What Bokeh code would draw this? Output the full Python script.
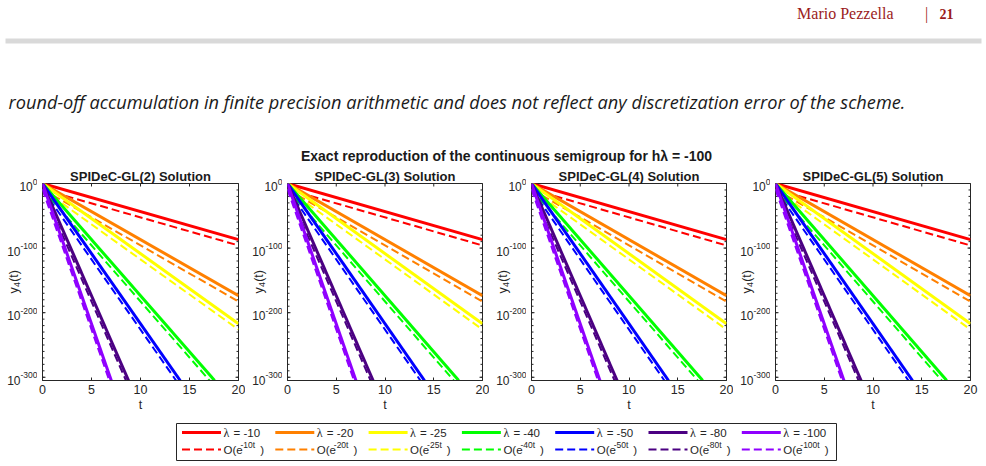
import math
from bokeh.plotting import figure
from bokeh.layouts import column, row
from bokeh.models import Range1d, FixedTicker, Label, ColumnDataSource
from bokeh.embed import file_html
from bokeh.resources import INLINE
from bokeh.core.properties import value

# ---------------- data ----------------
panel_titles = ["SPIDeC-GL(2) Solution", "SPIDeC-GL(3) Solution",
                "SPIDeC-GL(4) Solution", "SPIDeC-GL(5) Solution"]
lambdas = [-10, -20, -25, -40, -50, -80, -100]
colors = ["#FF0000", "#FF8000", "#FFFF00", "#00FF00", "#0000FF", "#4B0082", "#8F00FF"]

# exact solution y4(t) = exp(lambda t): straight lines in log10 units (start / end)
solid_t_start = [0, 0, 0, 0, 0, 0, 0]
solid_log10_start = [0, 0, 0, 0, 0, 0, 0]
solid_t_end = [20, 20, 20, 17.56, 14.05, 8.78, 7.02]
solid_log10_end = [-86.9, -173.7, -217.1, -305, -305, -305, -305]

# O(e^{lambda t}) reference lines (dashed)
dashed_t_start = [0, 0, 0, 0, 0, 0, 0]
dashed_log10_start = [-9, -9, -9, -9, -9, -9, -9]
dashed_t_end = [20, 20, 20, 17.05, 13.63, 8.52, 6.82]
dashed_log10_end = [-95.9, -182.7, -226.1, -305, -305, -305, -305]

x_ticks = [0, 5, 10, 15, 20]
y_ticks = [0, -100, -200, -300]          # exponents of the decades 10^0 ... 10^-300
y_minor = list(range(-300, 1, 10))
T_MAX = 20
Y_MIN = -305

AX = "#262626"
SANS = "Liberation Sans"

def sup_width(s, px):
    w = 0.0
    for ch in s:
        w += {"-": 0.333, "t": 0.278}.get(ch, 0.556) * px
    return w

# ---------------- header ----------------
hdr = figure(width=986, height=163, x_range=Range1d(0, 986), y_range=Range1d(163, 0),
             output_backend="svg", toolbar_location=None, min_border=0)
hdr.axis.visible = False
hdr.grid.visible = False
hdr.outline_line_color = None
hdr.quad(left=[5], right=[981], top=[38], bottom=[43], color="#D9D9D9", line_color=None)
hdr.add_layout(Label(x=893, y=13, text="Mario Pezzella", text_align="right", text_baseline="middle",
                     text_font="Liberation Serif", text_font_size="16px", text_color="#9B1B1B"))
hdr.add_layout(Label(x=926, y=13, text="|", text_align="center", text_baseline="middle",
                     text_font="Liberation Serif", text_font_size="16px", text_color="#9B1B1B"))
hdr.add_layout(Label(x=946, y=13, text="21", text_align="center", text_baseline="middle",
                     text_font="Liberation Serif", text_font_size="14px", text_font_style="bold",
                     text_color="#9B1B1B"))
hdr.add_layout(Label(x=8, y=101, text="round-off accumulation in finite precision arithmetic and does not reflect any discretization error of the scheme.",
                     text_align="left", text_baseline="middle", text_font="Open Sans",
                     text_font_size="18.2px", text_font_style="italic", text_color="#1A1A1A"))
hdr.add_layout(Label(x=506, y=155, text="Exact reproduction of the continuous semigroup for h\u03bb = -100",
                     text_align="center", text_baseline="middle", text_font=SANS,
                     text_font_size="14px", text_font_style="bold", text_color="#1A1A1A"))

# ---------------- panels ----------------
FIG_H = 252
TOP_B, BOT_B = 20, 35
FRAME_H = FIG_H - TOP_B - BOT_B
K = (0 - Y_MIN) / FRAME_H          # decades per pixel
STRIP_W = 37
frame_w = [196, 195, 195, 195]
right_b = [7, 7, 7, 16]
row_items = []
for i in range(4):
    # --- strip holding the y tick labels and y label (left of the box) ---
    s = figure(width=STRIP_W, height=FIG_H, x_range=Range1d(0, STRIP_W),
               y_range=Range1d(Y_MIN - BOT_B * K, TOP_B * K),
               output_backend="svg", toolbar_location=None, min_border=0,
               x_axis_location=None, y_axis_location=None)
    if "frame_align" in s.properties():
        s.frame_align = False
    else:
        s.y_range = Range1d(Y_MIN, 0)
    s.grid.visible = False
    s.outline_line_color = None
    exps = [str(t) for t in y_ticks]
    ews = [sup_width(e, 8.5) for e in exps]
    s.text(x=[STRIP_W] * len(exps), y=[t + 2 * K for t in y_ticks], text=exps,
           text_align="right", text_baseline="middle", text_font=value(SANS),
           text_font_size="8.5px", text_color=AX)
    s.text(x=[STRIP_W - w for w in ews], y=[t - 3 * K for t in y_ticks], text=["10"] * len(exps),
           text_align="right", text_baseline="middle", text_font=value(SANS),
           text_font_size="12px", text_color=AX)
    yc = Y_MIN / 2
    s.text(x=[13], y=[yc - 11.5 * K], text=["y"], angle=math.pi / 2, text_align="left",
           text_baseline="middle", text_font=value(SANS), text_font_size="12.5px", text_color=AX)
    s.text(x=[16], y=[yc - 5.0 * K], text=["4"], angle=math.pi / 2, text_align="left",
           text_baseline="middle", text_font=value(SANS), text_font_size="9px", text_color=AX)
    s.text(x=[13], y=[yc + 0.2 * K], text=["(t)"], angle=math.pi / 2, text_align="left",
           text_baseline="middle", text_font=value(SANS), text_font_size="12.5px", text_color=AX)
    row_items.append(s)

    # --- the plot box itself ---
    left = 42 - STRIP_W
    w = left + frame_w[i] + right_b[i]
    p = figure(width=w, height=FIG_H, x_range=Range1d(0, T_MAX), y_range=Range1d(Y_MIN, 0),
               output_backend="svg", toolbar_location=None, y_axis_location=None,
               min_border_left=left, min_border_right=right_b[i], min_border_top=TOP_B,
               min_border_bottom=BOT_B)
    p.grid.visible = False
    p.outline_line_color = AX
    p.background_fill_color = "white"
    p.border_fill_color = "white"
    p.title.text = panel_titles[i]
    p.title.align = "center"
    p.title.text_font = SANS
    p.title.text_font_size = "13px"
    p.title.text_font_style = "bold"
    p.title.text_color = "#1A1A1A"
    p.title.standoff = 0
    p.title.offset = 0

    xa = p.xaxis[0]
    xa.ticker = FixedTicker(ticks=x_ticks, minor_ticks=[])
    xa.axis_line_color = AX
    xa.major_tick_line_color = AX
    xa.major_tick_in = 3
    xa.major_tick_out = 0
    xa.major_label_text_font = SANS
    xa.major_label_text_font_size = "12.5px"
    xa.major_label_text_color = AX
    xa.major_label_standoff = 4
    xa.axis_label = "t"
    xa.axis_label_text_font = SANS
    xa.axis_label_text_font_size = "12.5px"
    xa.axis_label_text_font_style = "normal"
    xa.axis_label_text_color = AX
    xa.axis_label_standoff = 1

    # inward ticks of the log y axis (left and right edges) and mirrored x ticks on top
    for xe in (0, T_MAX):
        p.scatter(x=[xe] * len(y_ticks), y=y_ticks, marker="dash", size=6, line_color=AX, line_width=1)
        p.scatter(x=[xe] * len(y_minor), y=y_minor, marker="dash", size=4, line_color=AX, line_width=1)
    p.scatter(x=x_ticks, y=[0] * len(x_ticks), marker="dash", angle=math.pi / 2, size=6,
              line_color=AX, line_width=1)

    for k in range(len(lambdas)):
        p.line([solid_t_start[k], solid_t_end[k]], [solid_log10_start[k], solid_log10_end[k]],
               line_color=colors[k], line_width=3)
        p.line([dashed_t_start[k], dashed_t_end[k]], [dashed_log10_start[k], dashed_log10_end[k]],
               line_color=colors[k], line_width=2, line_dash="8 4")
    row_items.append(p)

# ---------------- legend ----------------
lg = figure(width=986, height=51, x_range=Range1d(0, 986), y_range=Range1d(51, 0),
            output_backend="svg", toolbar_location=None, min_border=0)
lg.axis.visible = False
lg.grid.visible = False
lg.outline_line_color = None
lg.quad(left=[176], right=[836], top=[8], bottom=[45], fill_color="white", line_color=AX, line_width=1)

col_x0 = [181.5 + 93.3 * i for i in range(len(lambdas))]
row1_y, row2_y = 17, 34
src_solid = ColumnDataSource(dict(xs=[[x, x + 39] for x in col_x0], ys=[[row1_y, row1_y]] * len(col_x0), c=colors))
src_dash = ColumnDataSource(dict(xs=[[x, x + 39] for x in col_x0], ys=[[row2_y, row2_y]] * len(col_x0), c=colors))
lg.multi_line(xs="xs", ys="ys", line_color="c", line_width=3, source=src_solid)
lg.multi_line(xs="xs", ys="ys", line_color="c", line_width=2, line_dash="8 4", source=src_dash)

sup_w = [sup_width(f"{lam}t", 8.5) for lam in lambdas]

lam_src = ColumnDataSource(dict(x=[x + 41.5 for x in col_x0], y=[row1_y] * len(col_x0), t=["\u03bb"] * len(col_x0)))
eq_src = ColumnDataSource(dict(x=[x + 51.5 for x in col_x0], y=[row1_y] * len(col_x0), t=[f"= {lam}" for lam in lambdas]))
o_src = ColumnDataSource(dict(x=[x + 41.5 for x in col_x0], y=[row2_y] * len(col_x0), t=["O(e"] * len(col_x0)))
sup_src = ColumnDataSource(dict(x=[x + 58.5 for x in col_x0], y=[row2_y - 5] * len(col_x0), t=[f"{lam}t" for lam in lambdas]))
par_src = ColumnDataSource(dict(x=[x + 58.5 + w + 5 for x, w in zip(col_x0, sup_w)], y=[row2_y] * len(col_x0), t=[")"] * len(col_x0)))

lg.text(x="x", y="y", text="t", source=lam_src, text_font=value("Liberation Serif"), text_font_size="12px",
        text_baseline="middle", text_color=AX)
for src in (eq_src, o_src, par_src):
    lg.text(x="x", y="y", text="t", source=src, text_font=value(SANS), text_font_size="11.5px",
            text_baseline="middle", text_color=AX)
lg.text(x="x", y="y", text="t", source=sup_src, text_font=value(SANS), text_font_size="8.5px",
        text_baseline="middle", text_color=AX)

layout = column(hdr, row(*row_items), lg)
open("out.html", "w").write(file_html(layout, INLINE))
